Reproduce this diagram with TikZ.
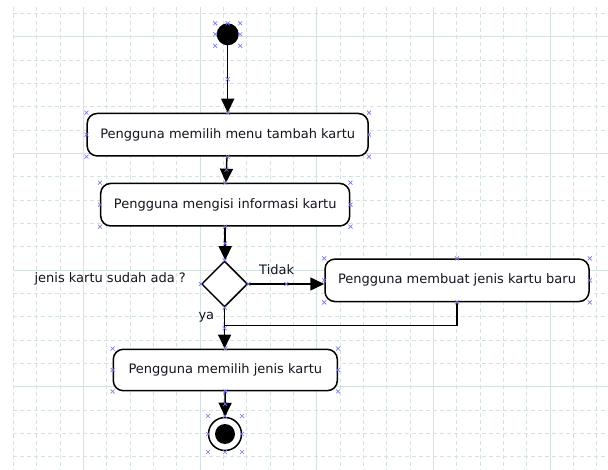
\documentclass[tikz,border=0pt]{standalone}
\usepackage{fontspec}
\setmainfont{DejaVu Sans}
\usetikzlibrary{shapes.geometric,shapes.misc,arrows.meta,calc}
\definecolor{gridc}{RGB}{214,226,226}
\definecolor{txt}{RGB}{20,20,30}
\definecolor{mk}{RGB}{120,120,235}
\begin{document}
\begin{tikzpicture}[x=1pt,y=-1pt,
  act/.style={draw,line width=1.5pt,rounded corners=10pt,fill=white,inner sep=0pt,
    minimum height=42.5pt,font=\fontsize{13}{15}\selectfont,text=txt},
  flow/.style={line width=1.5pt,-{Triangle[length=14pt,width=13pt]}},
  plainline/.style={line width=1.5pt},
  lbl/.style={font=\fontsize{13}{15}\selectfont,text=txt,inner sep=0pt},
  hmark/.style={draw=mk,cross out,line width=0.7pt,minimum size=4pt,inner sep=0pt,outer sep=0pt},
  gridd/.style={draw=gridc,line width=0.8pt,dash pattern=on 4pt off 3pt},
  grids/.style={draw=gridc,line width=0.9pt}
]
\useasboundingbox (0,0) rectangle (608,470);
\fill[white] (0,0) rectangle (608,470);
% grid
\foreach \i in {0,...,25} {\draw[gridd] ({13.333+23.333*\i},6.7) -- ({13.333+23.333*\i},469);}
\foreach \j in {0,...,19} {\draw[gridd] (13.3,{13.333+23.333*\j}) -- (608,{13.333+23.333*\j});}
\foreach \i in {3,8,13,18,23} {\draw[grids] ({13.333+23.333*\i},6.7) -- ({13.333+23.333*\i},469);}
\foreach \j in {1,6,11,16} {\draw[grids] (13.3,{13.333+23.333*\j}) -- (608,{13.333+23.333*\j});}

% nodes
\node[circle,fill=black,minimum size=22pt,inner sep=0pt] (start) at (227.7,34.3) {};
\node[act,minimum width=281pt] (b1) at (227.7,134.7) {Pengguna memilih menu tambah kartu};
\node[act,minimum width=249pt] (b2) at (225.2,204.7) {Pengguna mengisi informasi kartu};
\node[diamond,draw,line width=1.5pt,fill=white,minimum size=46pt,inner sep=0pt] (dia) at (224.6,284) {};
\node[act,minimum width=264pt] (b3) at (457,280.3) {Pengguna membuat jenis kartu baru};
\node[act,minimum width=224pt,minimum height=41.4pt] (b4) at (225.3,370) {Pengguna memilih jenis kartu};
\node[circle,draw,line width=1.5pt,fill=white,minimum size=33pt,inner sep=0pt] (fin) at (225,434) {};
\node[circle,fill=black,minimum size=20pt,inner sep=0pt] (finin) at (fin) {};

% labels
\node[lbl,anchor=base east] (q) at (186,282.7) {jenis kartu sudah ada ?};
\node[lbl,anchor=base west] (tidak) at (259,275) {Tidak};
\node[lbl,anchor=base west] (ya) at (198.3,320) {ya};

% connectors
\coordinate (mrg) at ($(dia.south)+(0,17.6)$);
\draw[plainline] (b3.south) |- (mrg);
\draw[flow] (start) -- node[hmark]{} (b1);
\draw[flow] (b1) -- node[hmark]{} (b2);
\draw[flow] (b2.south) -- node[hmark]{} (b2.south |- dia.north);
\draw[flow] (dia.east) -- node[hmark]{} (dia.east -| b3.west);
\draw[flow] (dia.south) -- node[hmark]{} (dia.south |- b4.north);
\draw[flow] (b4) -- node[hmark]{} (fin);

% selection handles
\foreach \n in {b1,b2,b3,b4} {
  \foreach \a in {north west,west,south west,north east,east,south east,north,south} {
    \node[hmark] at (\n.\a) {};
  }
}
\foreach \a in {north,south,east,west} {\node[hmark] at (dia.\a) {};}
\foreach \dx/\dy in {-12.5/-11,0/-11,12.5/-11,-12.5/0,12.5/0,-12.5/11.5,12.5/11.5} {
  \node[hmark] at ($(start)+(\dx,\dy)$) {};
}
\foreach \dx/\dy in {-17/-18,0/-18,17/-18,-17/0,17/0,-17/18,0/18,17/18} {
  \node[hmark] at ($(fin)+(\dx,\dy)$) {};
}
\end{tikzpicture}
\end{document}
